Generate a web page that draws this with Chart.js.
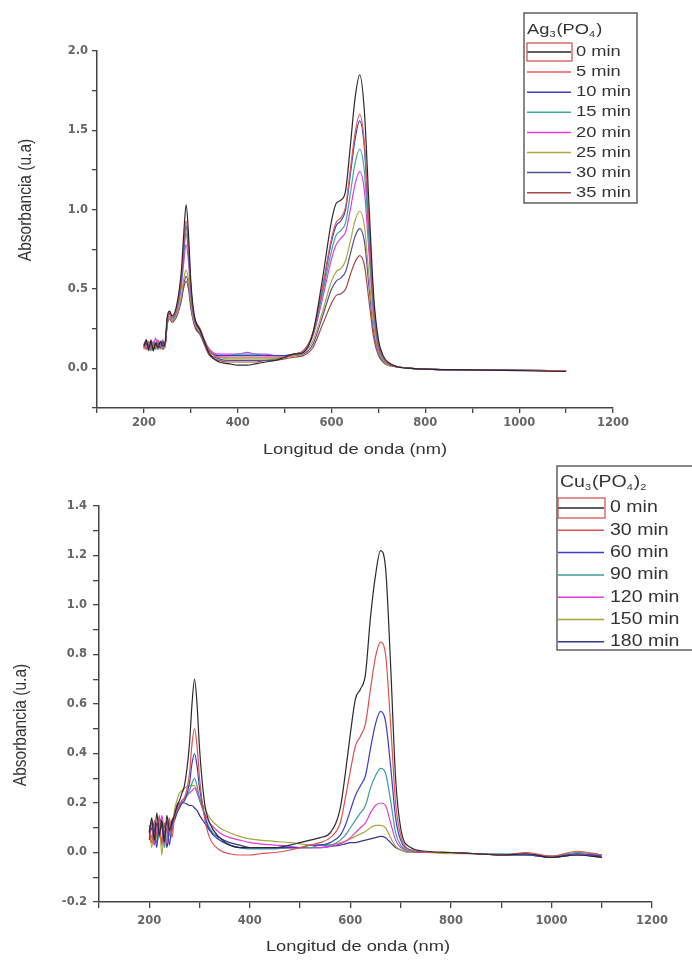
<!DOCTYPE html>
<html>
<head>
<meta charset="utf-8">
<script src="https://cdn.jsdelivr.net/npm/chart.js@4/dist/chart.umd.min.js"></script>
<style>
  html, body { margin: 0; padding: 0; background: #fff; }
  body { width: 692px; height: 961px; position: relative; overflow: hidden; }
  .panel { position: absolute; left: 0; width: 692px; }
  #agPanel { top: 0; height: 460px; }
  #cuPanel { top: 460px; height: 501px; }
</style>
</head>
<body>
<div class="panel" id="agPanel"><canvas id="agChart" width="692" height="460"></canvas></div>
<div class="panel" id="cuPanel"><canvas id="cuChart" width="692" height="501"></canvas></div>
<script>
// tick labels
const xLabels = [200, 400, 600, 800, 1000, 1200]
const agYLabels = [0, 0.5, 1, 1.5, 2]
const cuYLabels = [-0.2, 0, 0.2, 0.4, 0.6, 0.8, 1.0, 1.2, 1.4]

// Ag3(PO4) spectra
const agWavelengths = [200, 205, 210, 215, 220, 225, 230, 235, 240, 245,
  250, 255, 260, 270, 280, 285, 290, 295, 300, 305,
  310, 320, 330, 340, 360, 380, 400, 420, 440, 460,
  480, 500, 520, 540, 560, 580, 600, 610, 620, 630,
  640, 650, 660, 670, 680, 690, 700, 710, 720, 740,
  770, 800, 900, 1000, 1100]
const agLabels = ['0 min', '5 min', '10 min', '15 min', '20 min', '25 min', '30 min', '35 min']
const ag0 = [0.14, 0.18, 0.12, 0.17, 0.11, 0.16, 0.13, 0.17, 0.14, 0.16,
  0.33, 0.36, 0.33, 0.40, 0.62, 0.85, 1.03, 0.85, 0.55, 0.38,
  0.30, 0.24, 0.16, 0.09, 0.04, 0.03, 0.02, 0.02, 0.03, 0.04,
  0.05, 0.07, 0.09, 0.10, 0.22, 0.55, 0.93, 1.04, 1.06, 1.12,
  1.40, 1.70, 1.85, 1.62, 1.02, 0.45, 0.18, 0.08, 0.04, 0.01,
  0.0, -0.005, -0.01, -0.015, -0.02]
const ag5 = [0.15, 0.12, 0.17, 0.13, 0.16, 0.12, 0.18, 0.14, 0.15, 0.13,
  0.31, 0.34, 0.32, 0.38, 0.58, 0.78, 0.93, 0.78, 0.52, 0.37,
  0.30, 0.25, 0.17, 0.11, 0.07, 0.07, 0.07, 0.07, 0.07, 0.07,
  0.07, 0.07, 0.09, 0.11, 0.22, 0.50, 0.82, 0.92, 0.95, 1.02,
  1.25, 1.48, 1.60, 1.42, 0.90, 0.40, 0.16, 0.07, 0.03, 0.01,
  0.0, -0.005, -0.01, -0.012, -0.015]
const ag10 = [0.13, 0.17, 0.14, 0.18, 0.12, 0.15, 0.16, 0.13, 0.17, 0.14,
  0.32, 0.35, 0.32, 0.38, 0.57, 0.76, 0.90, 0.76, 0.51, 0.36,
  0.29, 0.24, 0.17, 0.11, 0.08, 0.08, 0.08, 0.08, 0.08, 0.08,
  0.08, 0.08, 0.09, 0.11, 0.22, 0.49, 0.80, 0.90, 0.93, 1.00,
  1.22, 1.44, 1.56, 1.39, 0.88, 0.39, 0.15, 0.07, 0.03, 0.01,
  0.0, -0.005, -0.01, -0.012, -0.015]
const ag15 = [0.16, 0.12, 0.15, 0.11, 0.17, 0.14, 0.12, 0.16, 0.13, 0.15,
  0.31, 0.34, 0.31, 0.37, 0.55, 0.72, 0.85, 0.72, 0.49, 0.35,
  0.29, 0.24, 0.17, 0.11, 0.08, 0.08, 0.09, 0.09, 0.09, 0.08,
  0.08, 0.08, 0.09, 0.11, 0.21, 0.46, 0.74, 0.84, 0.87, 0.92,
  1.10, 1.29, 1.38, 1.24, 0.79, 0.35, 0.14, 0.06, 0.03, 0.01,
  0.0, -0.005, -0.01, -0.012, -0.015]
const ag20 = [0.12, 0.18, 0.13, 0.16, 0.14, 0.19, 0.12, 0.15, 0.18, 0.13,
  0.30, 0.33, 0.31, 0.36, 0.52, 0.67, 0.78, 0.67, 0.47, 0.34,
  0.28, 0.24, 0.17, 0.12, 0.09, 0.09, 0.09, 0.10, 0.09, 0.09,
  0.08, 0.08, 0.09, 0.11, 0.20, 0.43, 0.69, 0.78, 0.82, 0.86,
  1.00, 1.16, 1.24, 1.12, 0.72, 0.32, 0.13, 0.06, 0.03, 0.01,
  0.0, -0.005, -0.01, -0.012, -0.015]
const ag25 = [0.15, 0.13, 0.16, 0.12, 0.15, 0.13, 0.17, 0.12, 0.14, 0.16,
  0.29, 0.32, 0.30, 0.34, 0.46, 0.56, 0.62, 0.56, 0.42, 0.32,
  0.27, 0.23, 0.16, 0.10, 0.07, 0.06, 0.06, 0.06, 0.06, 0.06,
  0.06, 0.07, 0.08, 0.10, 0.17, 0.35, 0.55, 0.61, 0.63, 0.68,
  0.80, 0.93, 0.99, 0.90, 0.57, 0.26, 0.11, 0.05, 0.02, 0.01,
  0.0, -0.005, -0.01, -0.012, -0.015]
const ag30 = [0.14, 0.16, 0.12, 0.15, 0.13, 0.16, 0.14, 0.13, 0.16, 0.14,
  0.29, 0.32, 0.30, 0.33, 0.44, 0.53, 0.58, 0.53, 0.40, 0.31,
  0.26, 0.22, 0.15, 0.09, 0.06, 0.05, 0.05, 0.05, 0.05, 0.05,
  0.06, 0.07, 0.08, 0.09, 0.15, 0.32, 0.50, 0.55, 0.57, 0.61,
  0.72, 0.83, 0.88, 0.80, 0.51, 0.23, 0.10, 0.04, 0.02, 0.01,
  0.0, -0.005, -0.01, -0.012, -0.015]
const ag35 = [0.13, 0.15, 0.11, 0.14, 0.12, 0.15, 0.13, 0.16, 0.12, 0.15,
  0.28, 0.31, 0.29, 0.33, 0.43, 0.51, 0.55, 0.50, 0.38, 0.30,
  0.25, 0.21, 0.14, 0.08, 0.05, 0.04, 0.04, 0.04, 0.04, 0.05,
  0.05, 0.06, 0.07, 0.08, 0.13, 0.27, 0.41, 0.46, 0.47, 0.50,
  0.59, 0.67, 0.71, 0.65, 0.42, 0.19, 0.08, 0.04, 0.02, 0.01,
  0.0, -0.005, -0.01, -0.012, -0.015]

// Cu3(PO4)2 spectra
const cuWavelengths = [200, 205, 210, 215, 220, 225, 230, 235, 240, 245,
  250, 255, 260, 265, 270, 280, 285, 290, 295, 300,
  310, 320, 340, 360, 380, 400, 420, 450, 480, 500,
  520, 540, 560, 580, 590, 600, 610, 620, 630, 640,
  650, 660, 670, 680, 690, 700, 720, 750, 800, 850,
  900, 950, 1000, 1050, 1100]
const cuLabels = ['0 min', '30 min', '60 min', '90 min', '120 min', '150 min', '180 min']
const cu0 = [0.08, 0.14, 0.05, 0.16, 0.07, 0.13, 0.04, 0.15, 0.09, 0.12,
  0.15, 0.19, 0.21, 0.24, 0.27, 0.44, 0.60, 0.70, 0.60, 0.42,
  0.20, 0.12, 0.06, 0.03, 0.02, 0.02, 0.02, 0.02, 0.03, 0.04,
  0.05, 0.06, 0.08, 0.18, 0.32, 0.48, 0.62, 0.66, 0.72, 0.95,
  1.12, 1.22, 1.15, 0.76, 0.30, 0.10, 0.02, 0.005, 0.0, -0.005,
  -0.01, -0.005, -0.02, -0.01, -0.02]
const cu30 = [0.11, 0.04, 0.13, 0.07, 0.15, 0.03, 0.12, 0.08, 0.14, 0.06,
  0.14, 0.17, 0.19, 0.21, 0.22, 0.32, 0.44, 0.50, 0.43, 0.30,
  0.14, 0.06, 0.01, -0.005, -0.01, -0.01, -0.005, 0.0, 0.01, 0.02,
  0.03, 0.04, 0.06, 0.12, 0.22, 0.33, 0.43, 0.47, 0.52, 0.66,
  0.79, 0.85, 0.80, 0.52, 0.20, 0.07, 0.01, 0.0, 0.0, -0.005,
  -0.01, 0.0, -0.015, 0.005, -0.01]
const cu60 = [0.05, 0.12, 0.09, 0.02, 0.14, 0.10, 0.06, 0.13, 0.03, 0.11,
  0.13, 0.16, 0.18, 0.20, 0.21, 0.28, 0.36, 0.40, 0.35, 0.26,
  0.15, 0.09, 0.05, 0.03, 0.02, 0.02, 0.02, 0.02, 0.02, 0.02,
  0.03, 0.03, 0.04, 0.07, 0.11, 0.17, 0.23, 0.27, 0.31, 0.42,
  0.52, 0.57, 0.53, 0.35, 0.14, 0.05, 0.01, 0.0, 0.0, -0.005,
  -0.01, -0.01, -0.02, -0.005, -0.015]
const cu90 = [0.10, 0.06, 0.12, 0.04, 0.09, 0.13, 0.02, 0.10, 0.07, 0.12,
  0.13, 0.16, 0.18, 0.20, 0.21, 0.25, 0.28, 0.30, 0.27, 0.22,
  0.15, 0.10, 0.05, 0.03, 0.02, 0.015, 0.015, 0.015, 0.02, 0.02,
  0.02, 0.03, 0.03, 0.05, 0.07, 0.10, 0.13, 0.16, 0.19, 0.26,
  0.31, 0.34, 0.32, 0.21, 0.08, 0.03, 0.005, 0.0, 0.0, -0.005,
  -0.005, -0.01, -0.015, 0.0, -0.01]
const cu120 = [0.07, 0.13, 0.03, 0.11, 0.06, 0.15, 0.08, 0.04, 0.12, 0.09,
  0.14, 0.17, 0.19, 0.21, 0.22, 0.24, 0.25, 0.26, 0.24, 0.21,
  0.16, 0.12, 0.08, 0.06, 0.05, 0.04, 0.035, 0.03, 0.025, 0.02,
  0.02, 0.02, 0.025, 0.035, 0.045, 0.06, 0.08, 0.10, 0.12, 0.16,
  0.19, 0.20, 0.19, 0.12, 0.05, 0.02, 0.005, 0.0, 0.0, -0.005,
  -0.01, -0.005, -0.02, -0.01, -0.015]
const cu150 = [0.09, 0.02, 0.11, 0.06, 0.12, -0.01, 0.10, 0.05, 0.13, 0.08,
  0.17, 0.21, 0.24, 0.25, 0.26, 0.27, 0.27, 0.27, 0.25, 0.22,
  0.18, 0.14, 0.10, 0.08, 0.065, 0.055, 0.05, 0.045, 0.04, 0.035,
  0.03, 0.03, 0.03, 0.04, 0.045, 0.055, 0.065, 0.075, 0.085, 0.10,
  0.11, 0.11, 0.10, 0.06, 0.025, 0.01, 0.0, 0.0, -0.005, -0.005,
  -0.01, -0.01, -0.015, -0.005, -0.01]
const cu180 = [0.06, 0.10, 0.03, 0.12, 0.08, 0.05, 0.11, 0.02, 0.09, 0.13,
  0.15, 0.18, 0.20, 0.20, 0.20, 0.19, 0.19, 0.18, 0.17, 0.15,
  0.12, 0.09, 0.06, 0.04, 0.03, 0.02, 0.02, 0.02, 0.02, 0.02,
  0.02, 0.02, 0.025, 0.03, 0.035, 0.04, 0.04, 0.045, 0.05, 0.055,
  0.06, 0.065, 0.06, 0.04, 0.02, 0.01, 0.0, 0.0, 0.0, -0.005,
  -0.01, -0.01, -0.02, -0.01, -0.02]

const agColors = ['#2a2a2a', '#e05a5a', '#3c3cc8', '#3aa7a7', '#e03ce0', '#a9a845', '#505096', '#a64646']
const cuColors = ['#2a2a2a', '#e05050', '#3c3cc8', '#3a9c9c', '#e03ce0', '#a9a440', '#34348a']

const FONT = '"Liberation Sans", Arial, sans-serif'
const STRETCH = 1.22

// axis titles and the framed legend, drawn straight on the canvas
const decorations = {
  id: 'decorations',
  afterDraw (chart, args, opts) {
    const { ctx } = chart
    const stretchText = (text, x, y, sx, sy) => {
      ctx.save()
      ctx.translate(x, y)
      ctx.scale(sx, sy)
      ctx.fillText(text, 0, 0)
      ctx.restore()
    }
    ctx.save()
    ctx.fillStyle = '#333'
    ctx.textBaseline = 'middle'

    ctx.textAlign = 'center'
    ctx.font = `15px ${FONT}`
    stretchText(opts.xTitle.text, opts.xTitle.x, opts.xTitle.y, STRETCH, 1)

    ctx.save()
    ctx.translate(opts.yTitle.x, opts.yTitle.y)
    ctx.rotate(-Math.PI / 2)
    ctx.font = `15.5px ${FONT}`
    stretchText(opts.yTitle.text, 0, 0, 1, STRETCH)
    ctx.restore()

    const lg = opts.legend
    ctx.fillStyle = '#fff'
    ctx.fillRect(lg.x, lg.y, lg.w, lg.h)
    ctx.strokeStyle = '#555'
    ctx.lineWidth = 1.4
    ctx.strokeRect(lg.x, lg.y, lg.w, lg.h)

    ctx.fillStyle = '#333'
    ctx.textAlign = 'left'
    let tx = lg.x + 3
    lg.title.forEach(([text, sub]) => {
      ctx.font = sub ? `9px ${FONT}` : `${lg.fontSize}px ${FONT}`
      stretchText(text, tx, lg.titleY + (sub ? 5 : 0), STRETCH, 1)
      tx += ctx.measureText(text).width * STRETCH + (sub ? 1 : 0)
    })

    chart.data.datasets.forEach((ds, i) => {
      const y = lg.rowY + i * lg.rowGap
      ctx.strokeStyle = ds.borderColor
      ctx.lineWidth = 1.5
      ctx.beginPath()
      ctx.moveTo(lg.x + lg.lineStart, y)
      ctx.lineTo(lg.x + lg.lineEnd, y)
      ctx.stroke()
      ctx.fillStyle = '#333'
      ctx.font = `${lg.fontSize}px ${FONT}`
      stretchText(ds.label, lg.x + lg.textX, y, STRETCH, 1)
    })

    ctx.strokeStyle = '#d04a4a'
    ctx.lineWidth = 1.2
    ctx.strokeRect(lg.x + lg.lineStart, lg.rowY - lg.frameH / 2, lg.lineEnd - lg.lineStart + 1, lg.frameH)
    ctx.restore()
  }
}

const makeDatasets = (wavelengths, series, labels, colors) =>
  series.map((values, i) => ({
    label: labels[i],
    data: wavelengths.map((x, j) => ({ x, y: values[j] })),
    borderColor: colors[i],
    borderWidth: 1.2,
    pointRadius: 0,
    fill: false,
    cubicInterpolationMode: 'monotone'
  }))

const tickFont = { family: 'DejaVu Sans', size: 11.5, weight: 'bold' }

const makeOptions = ({ yMin, yMax, yStep, yShown, box, height, tick, deco }) => ({
  responsive: false,
  animation: false,
  events: [],
  layout: { padding: { top: box.top, right: 692 - box.right, left: 0, bottom: 0 } },
  plugins: { legend: { display: false }, tooltip: { enabled: false }, decorations: deco },
  scales: {
    x: {
      type: 'linear',
      min: 100,
      max: 1200,
      afterFit: scale => { scale.height = height - box.bottom },
      border: { color: '#444', width: 1.5 },
      grid: { drawOnChartArea: false, color: '#444', lineWidth: 1.3, tickLength: tick.length },
      ticks: {
        stepSize: 100,
        autoSkip: false,
        maxRotation: 0,
        padding: tick.xPad,
        color: '#666',
        font: tickFont,
        callback: v => xLabels.includes(v) ? String(v) : ''
      }
    },
    y: {
      min: yMin,
      max: yMax,
      afterFit: scale => { scale.width = box.left },
      border: { color: '#444', width: 1.5 },
      grid: { drawOnChartArea: false, color: '#444', lineWidth: 1.3, tickLength: tick.length },
      ticks: {
        stepSize: yStep,
        autoSkip: false,
        padding: tick.yPad,
        color: '#666',
        font: tickFont,
        callback: v => {
          const hit = yShown.find(s => Math.abs(s - v) < 1e-6)
          return hit === undefined ? '' : hit.toFixed(1)
        }
      }
    }
  }
})

Chart.register(decorations)

new Chart('agChart', {
  type: 'line',
  data: { datasets: makeDatasets(agWavelengths, [ag0, ag5, ag10, ag15, ag20, ag25, ag30, ag35], agLabels, agColors) },
  options: makeOptions({
    yMin: -0.25,
    yMax: 2.0,
    yStep: 0.25,
    yShown: agYLabels,
    box: { left: 97, right: 613, top: 51, bottom: 408 },
    height: 460,
    tick: { length: 5, xPad: 3, yPad: 4 },
    deco: {
      xTitle: { text: 'Longitud de onda (nm)', x: 355, y: 450 },
      yTitle: { text: 'Absorbancia (u.a)', x: 26, y: 200 },
      legend: {
        x: 524, y: 13, w: 113, h: 190,
        title: [['Ag', false], ['3', true], ['(PO', false], ['4', true], [')', false]],
        titleY: 30, rowY: 52, rowGap: 20.1,
        lineStart: 3, lineEnd: 47, textX: 52, frameH: 18, fontSize: 15
      }
    }
  })
})

new Chart('cuChart', {
  type: 'line',
  data: { datasets: makeDatasets(cuWavelengths, [cu0, cu30, cu60, cu90, cu120, cu150, cu180], cuLabels, cuColors) },
  options: makeOptions({
    yMin: -0.2,
    yMax: 1.4,
    yStep: 0.1,
    yShown: cuYLabels,
    box: { left: 99, right: 652, top: 46, bottom: 442 },
    height: 501,
    tick: { length: 6, xPad: 6, yPad: 6 },
    deco: {
      xTitle: { text: 'Longitud de onda (nm)', x: 358, y: 487 },
      yTitle: { text: 'Absorbancia (u.a)', x: 21, y: 265 },
      legend: {
        x: 557, y: 6, w: 140, h: 184,
        title: [['Cu', false], ['3', true], ['(PO', false], ['4', true], [')', false], ['2', true]],
        titleY: 23, rowY: 48, rowGap: 22.3,
        lineStart: 1, lineEnd: 47, textX: 53, frameH: 20, fontSize: 16
      }
    }
  })
})
</script>
</body>
</html>
